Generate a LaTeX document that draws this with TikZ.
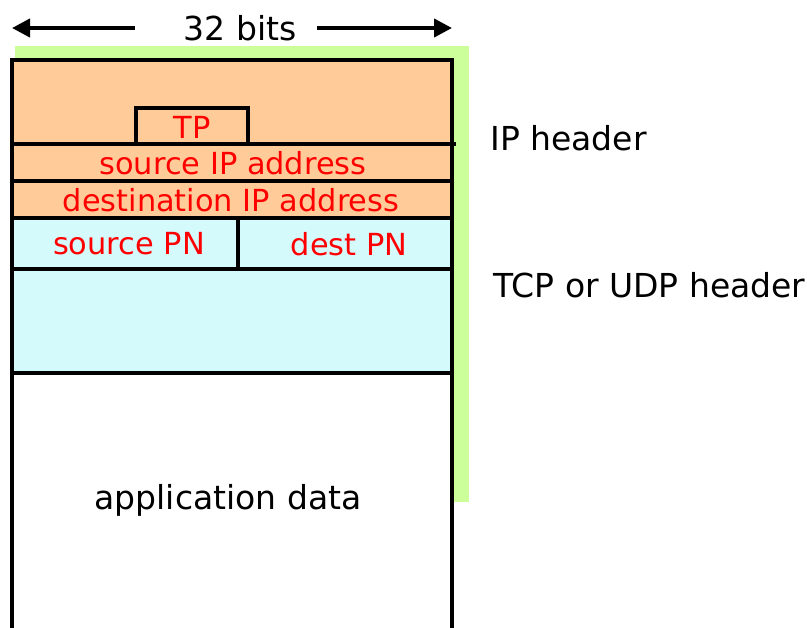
\documentclass[tikz,border=0pt]{standalone}
\usepackage{fontspec}
\setmainfont{DejaVu Sans}
\usetikzlibrary{arrows.meta}
\definecolor{ipfill}{HTML}{FFCC99}
\definecolor{tcpfill}{HTML}{D5FAFC}
\definecolor{greenbg}{HTML}{CCFF99}
\tikzset{frame/.style = {line width = 2.4pt},
  field/.style = {text = red, font = \fontsize{15.2}{18}\selectfont, inner sep = 0},
  caption/.style = {font = \fontsize{16.5}{20}\selectfont, inner sep = 0},
  widearrow/.style = {line width = 2pt, -{Triangle[length = 9pt, width = 9pt]}}}

\begin{document}
\begin{tikzpicture}[x=0.5pt, y=-0.5pt]
          \useasboundingbox (0, 0) rectangle (807, 627);

          \fill [greenbg] (15, 46) rectangle (469, 502);
          \fill [ipfill] (12, 60) rectangle (452, 218);
          \fill [tcpfill] (12, 218) rectangle (452, 373);
          \fill [white] (12, 373) rectangle (452, 640);

          \draw [frame] (12, 640) -- (12, 60) -- (452, 60) -- (452, 640);
          \draw [frame] (12, 144) -- (456, 144);
          \draw [frame] (12, 181) -- (452, 181);
          \draw [frame] (12, 218) -- (452, 218);
          \draw [frame] (12, 269) -- (452, 269);
          \draw [frame] (12, 373) -- (452, 373);
          \draw [frame] (238, 218) -- (238, 269);
          \draw [frame] (136, 144) -- (136, 108) -- (248, 108) -- (248, 144);

          \node [field] (tp) at (192, 127) {TP};
          \node [field] (srcip) at (233, 163) {source IP address};
          \node [field] (dstip) at (231, 200) {destination IP address};
          \node [field] (srcpn) at (129, 244) {source PN};
          \node [field] (dstpn) at (349, 244) {dest PN};

          \node [caption] (bits) at (240, 28) {32 bits};
          \node [caption, anchor = west] (iphdr) at (490, 138) {IP header};
          \node [caption, anchor = west] (tcphdr) at (493, 285) {TCP or UDP header};
          \node [caption] (appdata) at (228, 500) {application data};

          \coordinate (leftend) at (12, 28);
          \coordinate (rightend) at (452, 28);
          \draw [widearrow, shorten <= 24pt] (bits.west) -- (leftend);
          \draw [widearrow, shorten <= 10pt] (bits.east) -- (rightend);
        \end{tikzpicture}
\end{document}
